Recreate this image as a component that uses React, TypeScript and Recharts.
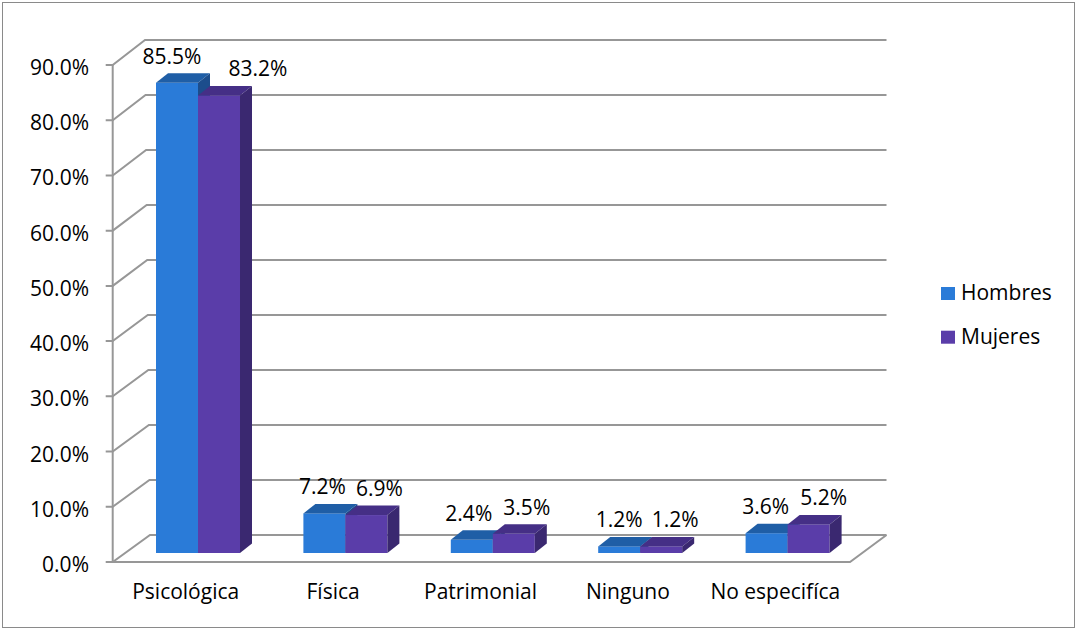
import React from 'react';
import { BarChart, Bar, XAxis, YAxis, CartesianGrid, LabelList, Legend } from 'recharts';

// ---- data ----
const categories = ['Psicológica', 'Física', 'Patrimonial', 'Ninguno', 'No especifíca'];
const hombres = [0.855, 0.072, 0.024, 0.012, 0.036];
const mujeres = [0.832, 0.069, 0.035, 0.012, 0.052];
const yTicks = [0, 0.1, 0.2, 0.3, 0.4, 0.5, 0.6, 0.7, 0.8, 0.9];
const seriesNames = ['Hombres', 'Mujeres'];

const data = categories.map((c, i) => ({ name: c, Hombres: hombres[i], Mujeres: mujeres[i] }));

// ---- layout / style ----
const W = 1077;
const H = 630;
const FONT = "'Open Sans', sans-serif";
const FS = 21;
const PLOT_LEFT = 124;
const PLOT_RIGHT = 861;
const PLOT_TOP = 58;
const PLOT_BOTTOM = 553;
const DEPTH_DX = 12;
const DEPTH_DY = -9.5;

// walls (3D frame)
const FRONT_LEFT_X = 112.7;
const FRONT_Y0 = 562;
const FRONT_SPAN = 497;
const BACK_Y0 = 535;
const BACK_SPAN = 495;
const BACK_LEFT_X0 = 150;
const BACK_LEFT_SHRINK = 5;
const BACK_RIGHT_X = 886.5;
const FRONT_RIGHT_X = 850;
const GRID = '#979797';

const COLORS = {
  Hombres: { front: '#2a7bd8', top: '#1f5ea6', side: '#1c4d8c' },
  Mujeres: { front: '#5a3da9', top: '#452f86', side: '#3a2870' },
};

const hombresLabelShift = [-5, -2, -3, 0, -1];
const mujeresLabelShift = [39, 13, 13, 14, 15];

const pct = (v: number) => `${(v * 100).toFixed(1)}%`;

const tOf = (y: number) => (PLOT_BOTTOM - y) / (PLOT_BOTTOM - PLOT_TOP);

const renderGridLine = (props: any) => {
  const y = props.y1;
  const t = tOf(y);
  const fy = FRONT_Y0 - t * FRONT_SPAN;
  const by = BACK_Y0 - t * BACK_SPAN;
  const bx = BACK_LEFT_X0 - t * BACK_LEFT_SHRINK;
  const isBottom = Math.abs(t) < 0.001;
  return (
    <g key={`grid-${y}`}>
      <polyline
        points={`${FRONT_LEFT_X - 7},${fy} ${FRONT_LEFT_X},${fy} ${bx},${by} ${BACK_RIGHT_X},${by}`}
        fill="none"
        stroke={GRID}
        strokeWidth={2}
      />
      {isBottom && (
        <>
          <line
            x1={FRONT_LEFT_X}
            y1={FRONT_Y0 - FRONT_SPAN}
            x2={FRONT_LEFT_X}
            y2={FRONT_Y0}
            stroke={GRID}
            strokeWidth={2}
          />
          <polyline
            points={`${FRONT_LEFT_X},${FRONT_Y0} ${FRONT_RIGHT_X},${FRONT_Y0} ${BACK_RIGHT_X},${BACK_Y0}`}
            fill="none"
            stroke={GRID}
            strokeWidth={2}
          />
        </>
      )}
    </g>
  );
};

const makeShape = (c: { front: string; top: string; side: string }) => (props: any) => {
  const { x, y, width: w, height: h } = props;
  if (w == null || h == null) return <g />;
  return (
    <g>
      <rect x={x} y={y} width={w} height={h} fill={c.front} />
      <polygon
        points={`${x},${y} ${x + DEPTH_DX},${y + DEPTH_DY} ${x + w + DEPTH_DX},${y + DEPTH_DY} ${x + w},${y}`}
        fill={c.top}
      />
      <polygon
        points={`${x + w},${y} ${x + w + DEPTH_DX},${y + DEPTH_DY} ${x + w + DEPTH_DX},${y + h + DEPTH_DY} ${x + w},${y + h}`}
        fill={c.side}
      />
    </g>
  );
};

const makeLabel = (shifts: number[]) => (props: any) => {
  const { x, y, width, value, index } = props;
  const sh = shifts[index ?? 0] ?? 0;
  return (
    <text
      x={Number(x) + Number(width) / 2 + sh}
      y={Number(y) - 19}
      textAnchor="middle"
      fontSize={FS}
      fontFamily={FONT}
      fill="#000"
    >
      {pct(Number(value))}
    </text>
  );
};

const YTick = (props: any) => {
  const { y, payload } = props;
  const t = tOf(y);
  const fy = FRONT_Y0 - t * FRONT_SPAN;
  return (
    <text x={89} y={fy + 10} textAnchor="end" fontSize={FS} fontFamily={FONT} fill="#000">
      {pct(payload.value)}
    </text>
  );
};

const XTick = (props: any) => {
  const { x, payload } = props;
  return (
    <text x={x - 12} y={PLOT_BOTTOM + 46} textAnchor="middle" fontSize={FS} fontFamily={FONT} fill="#000">
      {payload.value}
    </text>
  );
};

const LegendContent = () => (
  <svg width={132} height={90} style={{ display: 'block', overflow: 'visible' }}>
    {seriesNames.map((n, i) => (
      <g key={n}>
        <rect x={1} y={15 + i * 43.7} width={14} height={13} fill={COLORS[n as 'Hombres' | 'Mujeres'].front} />
        <text x={21} y={28 + i * 43.7} fontSize={FS} fontFamily={FONT} fill="#000">
          {n}
        </text>
      </g>
    ))}
  </svg>
);

export default function App() {
  return (
    <div style={{ position: 'absolute', left: 0, top: 0, width: W, height: H, background: '#fff' }}>
      <div
        style={{
          position: 'absolute',
          left: 2,
          top: 2,
          width: W - 6,
          height: H - 6,
          border: '1px solid #8a8a8a',
          boxSizing: 'content-box',
        }}
      />
      <div style={{ position: 'absolute', left: 0, top: 0 }}>
        <BarChart
          width={W}
          height={H}
          data={data}
          barGap={0}
          margin={{ top: PLOT_TOP, right: W - PLOT_RIGHT, bottom: 17, left: 0 }}
        >
          <CartesianGrid horizontal={renderGridLine} vertical={false} />
          <XAxis
            dataKey="name"
            axisLine={false}
            tickLine={false}
            height={H - PLOT_BOTTOM - 17}
            interval={0}
            tick={<XTick />}
          />
          <YAxis
            type="number"
            domain={[0, 0.9]}
            ticks={yTicks}
            interval={0}
            axisLine={false}
            tickLine={false}
            width={PLOT_LEFT}
            tick={<YTick />}
          />
          <Legend
            layout="vertical"
            align="center"
            verticalAlign="middle"
            wrapperStyle={{ left: 940, top: 272, width: 132, height: 90 }}
            content={<LegendContent />}
          />
          <Bar
            dataKey="Hombres"
            barSize={42}
            isAnimationActive={false}
            fill={COLORS.Hombres.front}
            shape={makeShape(COLORS.Hombres)}
          >
            <LabelList dataKey="Hombres" content={makeLabel(hombresLabelShift)} />
          </Bar>
          <Bar
            dataKey="Mujeres"
            barSize={42}
            isAnimationActive={false}
            fill={COLORS.Mujeres.front}
            shape={makeShape(COLORS.Mujeres)}
          >
            <LabelList dataKey="Mujeres" content={makeLabel(mujeresLabelShift)} />
          </Bar>
        </BarChart>
      </div>
    </div>
  );
}
